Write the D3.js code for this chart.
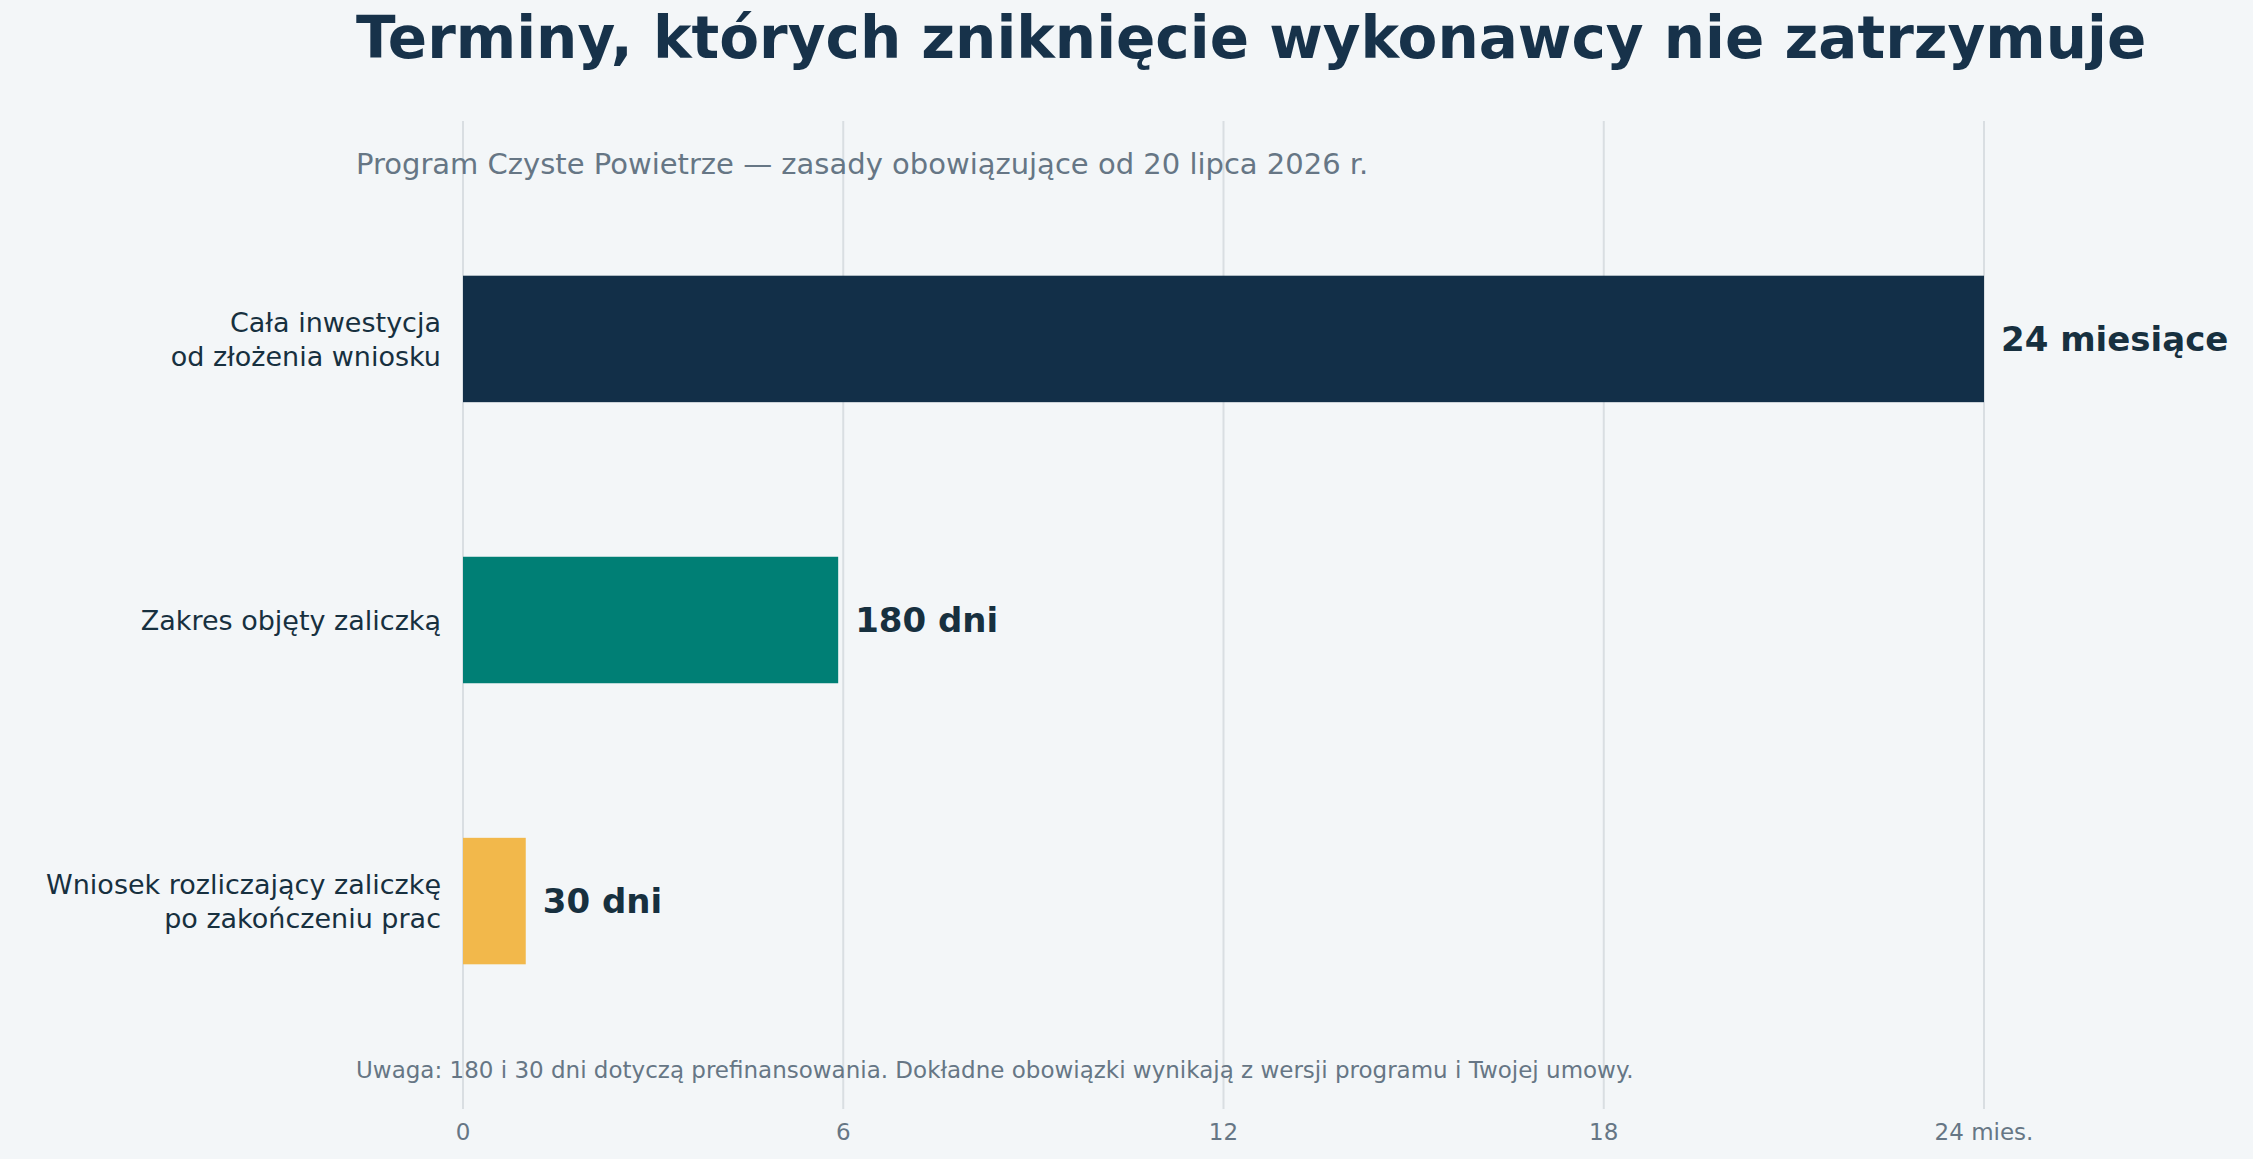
<!DOCTYPE html>
<html><head><meta charset="utf-8">
<script src="https://cdn.jsdelivr.net/npm/d3@7"></script>
<style>
body{margin:0;background:#f3f6f8;}
svg text{font-family:"DejaVu Sans",sans-serif;}
</style></head>
<body><svg id="chart" width="2253" height="1159"></svg>
<script>
// Data (months)
const categories = [["Cała inwestycja", "od złożenia wniosku"], ["Zakres objęty zaliczką"], ["Wniosek rozliczający zaliczkę", "po zakończeniu prac"]];
const values = [24, 5.92, 0.99];
const valueLabels = ["24 miesiące", "180 dni", "30 dni"];
const colors = ["#122f48", "#007f75", "#f2b84b"];
const ticks = [0, 6, 12, 18, 24];
const tickLabels = ["0", "6", "12", "18", "24 mies."];

const svg = d3.select("#chart");
const W = 2253, H = 1159;
svg.append("rect").attr("width", W).attr("height", H).attr("fill", "#f3f6f8");

const x = d3.scaleLinear().domain([0, 24]).range([463, 1984]);
const y = d3.scaleBand().domain(d3.range(categories.length)).range([197, 1043]).paddingInner(0.55).paddingOuter(0.28);

// Grid lines
svg.append("g").selectAll("line").data(ticks).join("line")
  .attr("x1", d => x(d)).attr("x2", d => x(d))
  .attr("y1", 121).attr("y2", 1109)
  .attr("stroke", "#d9dee2").attr("stroke-width", 2);

// Tick labels
svg.append("g").selectAll("text").data(ticks).join("text")
  .attr("x", d => x(d)).attr("y", 1140).attr("text-anchor", "middle")
  .attr("font-size", 23).attr("fill", "#667685")
  .text((d, i) => tickLabels[i]);

// Bars
svg.append("g").selectAll("rect").data(values).join("rect")
  .attr("x", x(0)).attr("y", (d, i) => y(i))
  .attr("width", d => x(d) - x(0)).attr("height", y.bandwidth())
  .attr("fill", (d, i) => colors[i]);

// Value labels
svg.append("g").selectAll("text").data(values).join("text")
  .attr("x", d => x(d) + 17).attr("y", (d, i) => y(i) + y.bandwidth() / 2)
  .attr("dy", "0.36em").attr("font-size", 34).attr("font-weight", "bold")
  .attr("fill", "#17303f").text((d, i) => valueLabels[i]);

// Category labels
const cat = svg.append("g").selectAll("text").data(categories).join("text")
  .attr("text-anchor", "end").attr("font-size", 27).attr("fill", "#17303f");
cat.each(function(lines, i) {
  const cy = y(i) + y.bandwidth() / 2;
  const lh = 34;
  d3.select(this).selectAll("tspan").data(lines).join("tspan")
    .attr("x", 441)
    .attr("y", (l, j) => cy + (j - (lines.length - 1) / 2) * lh)
    .attr("dy", "0.36em").text(l => l);
});

// Title, subtitle, note
svg.append("text").attr("x", 356).attr("y", 58).attr("font-size", 58).attr("font-weight", "bold")
  .attr("fill", "#17324a").text("Terminy, których zniknięcie wykonawcy nie zatrzymuje");
svg.append("text").attr("x", 356).attr("y", 174).attr("font-size", 29).attr("fill", "#667685")
  .text("Program Czyste Powietrze — zasady obowiązujące od 20 lipca 2026 r.");
svg.append("text").attr("x", 356).attr("y", 1078).attr("font-size", 23).attr("fill", "#667685")
  .text("Uwaga: 180 i 30 dni dotyczą prefinansowania. Dokładne obowiązki wynikają z wersji programu i Twojej umowy.");
</script>
</body></html>
